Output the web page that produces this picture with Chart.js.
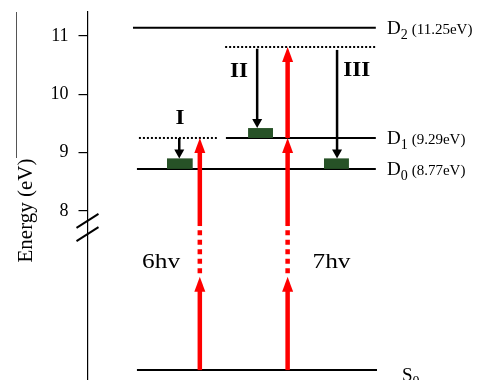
<!DOCTYPE html>
<html>
<head>
<meta charset="utf-8">
<script src="https://cdn.jsdelivr.net/npm/chart.js@4/dist/chart.umd.min.js"></script>
<style>
  html, body { margin: 0; padding: 0; background: #fff; }
</style>
</head>
<body>
<canvas id="chart" width="483" height="380"></canvas>
<script>
/************ DATA ************/
// energy axis ticks (the axis is broken below 8 eV)
const yTicks = [8, 9, 10, 11];

// electronic levels, y = where they sit on the drawn axis
const levelNames = ["D", "D", "D", "S"];
const levelSubs = ["2", "1", "0", "0"];
const levelEnergies = ["(11.25eV)", "(9.29eV)", "(8.77eV)", ""];
const levelY = [11.14, 9.25, 8.72, 5.27];

// virtual (multiphoton) levels, dotted
const virtualY = [9.25, 10.81];

// photon pumping arrows
const photons = ["6hv", "7hv"];
const pumpTargets = [[9.25], [9.25, 10.81]];
const pumpLowTip = 6.87;      // first head, below the gap
const pumpGap = [6.93, 7.74]; // dashed part

// relaxation channels
const channels = ["I", "II", "III"];
const channelFrom = [9.25, 10.78, 10.76];
const channelTo = [8.90, 9.42, 8.90];
const channelBase = [8.72, 9.25, 8.72];

/************ LAYOUT ************/
const SERIF = "'Liberation Serif', 'DejaVu Serif', serif";
const LEVEL_X = [[11.5, 72.9], [35.0, 72.9], [12.5, 72.9], [12.5, 73.2]];
const VIRTUAL_X = [[13.0, 32.7], [34.8, 73.2]];
const PUMP_X = [28.4, 50.6];
const CHANNEL_X = [23.2, 42.9, 63.1];
const BOX_X = [[20.1, 26.6], [40.6, 46.9], [59.8, 66.1]];
const CHANNEL_LABEL = [[23.4, 9.61], [38.3, 10.41], [68.1, 10.43]];
const PHOTON_LABEL = [[18.6, 7.02], [61.7, 7.02]];

const RED = "#ff0000";
const GREEN = "#275227";

/************ DATASETS ************/
const datasets = [];
levelY.forEach((y, i) => {
  datasets.push({
    data: [{ x: LEVEL_X[i][0], y: y }, { x: LEVEL_X[i][1], y: y }],
    showLine: true, borderColor: "#000", borderWidth: 2,
    pointRadius: 0, borderCapStyle: "butt"
  });
});
virtualY.forEach((y, i) => {
  datasets.push({
    data: [{ x: VIRTUAL_X[i][0], y: y }, { x: VIRTUAL_X[i][1], y: y }],
    showLine: true, borderColor: "#000", borderWidth: 2, borderDash: [2, 2],
    pointRadius: 0, borderCapStyle: "butt"
  });
});

/************ HELPERS ************/
function stretchText(ctx, str, x, y, font, align, sx) {
  ctx.save();
  ctx.translate(x, y);
  ctx.scale(sx, 1);
  ctx.font = font;
  ctx.textAlign = align;
  ctx.textBaseline = "alphabetic";
  ctx.fillText(str, 0, 0);
  ctx.restore();
}

function arrow(ctx, x, y0, y1, lw, color, headW, headL) {
  const dir = Math.sign(y1 - y0);
  ctx.strokeStyle = color;
  ctx.lineWidth = lw;
  ctx.lineCap = "butt";
  ctx.setLineDash([]);
  ctx.beginPath();
  ctx.moveTo(x, y0);
  ctx.lineTo(x, y1 - dir * headL * 0.7);
  ctx.stroke();
  ctx.fillStyle = color;
  ctx.beginPath();
  ctx.moveTo(x, y1);
  ctx.lineTo(x - headW / 2, y1 - dir * headL);
  ctx.lineTo(x + headW / 2, y1 - dir * headL);
  ctx.closePath();
  ctx.fill();
}

/************ DIAGRAM PLUGIN ************/
const diagramPlugin = {
  id: "diagram",
  afterDatasetsDraw(chart) {
    const ctx = chart.ctx;
    const xs = chart.scales.x, ys = chart.scales.y;
    const px = v => xs.getPixelForValue(v);
    const py = v => ys.getPixelForValue(v);
    ctx.save();

    // green product boxes
    ctx.fillStyle = GREEN;
    BOX_X.forEach((b, i) => {
      const x0 = px(b[0]), x1 = px(b[1]);
      const top = py(channelTo[i]), bot = py(channelBase[i]);
      ctx.fillRect(x0, top, x1 - x0, bot - top);
    });

    // relaxation arrows (black)
    channels.forEach((c, i) => {
      arrow(ctx, px(CHANNEL_X[i]), py(channelFrom[i]), py(channelTo[i]), 2.5, "#000", 10, 9);
    });

    // photon arrows (red)
    photons.forEach((p, i) => {
      const x = px(PUMP_X[i]);
      arrow(ctx, x, py(levelY[3]), py(pumpLowTip), 4.5, RED, 11, 15);
      ctx.strokeStyle = RED;
      ctx.lineWidth = 4.5;
      ctx.setLineDash([5, 4.5]);
      ctx.beginPath();
      ctx.moveTo(x, py(pumpGap[0]));
      ctx.lineTo(x, py(pumpGap[1]));
      ctx.stroke();
      ctx.setLineDash([]);
      let from = pumpGap[1];
      pumpTargets[i].forEach(t => {
        arrow(ctx, x, py(from), py(t), 4.5, RED, 11, 15);
        from = t;
      });
    });

    ctx.fillStyle = "#000";
    // channel labels
    channels.forEach((c, i) => {
      stretchText(ctx, c, px(CHANNEL_LABEL[i][0]), py(CHANNEL_LABEL[i][1]) + 7, "bold 21px " + SERIF, "center", 1.1);
    });
    // photon labels
    photons.forEach((p, i) => {
      stretchText(ctx, p, px(PHOTON_LABEL[i][0]), py(PHOTON_LABEL[i][1]), "22px " + SERIF, "center", 1.15);
    });

    // level labels
    levelNames.forEach((n, i) => {
      const isGround = levelEnergies[i] === "";
      let x = isGround ? 402 : 387;
      const base = py(levelY[i]) + (isGround ? 10.5 : 6.5);
      ctx.font = "19px " + SERIF;
      ctx.textAlign = "left";
      ctx.textBaseline = "alphabetic";
      ctx.fillText(n, x, base);
      x += ctx.measureText(n).width;
      ctx.font = "14px " + SERIF;
      ctx.fillText(levelSubs[i], x, base + 5);
      x += ctx.measureText(levelSubs[i]).width + 4;
      if (!isGround) {
        ctx.font = "15px " + SERIF;
        ctx.fillText(levelEnergies[i], x, base);
      }
    });

    // axis break marks
    const ax = chart.chartArea.left;
    ctx.strokeStyle = "#000";
    ctx.lineWidth = 2;
    [7.83, 7.60].forEach(v => {
      const y = py(v);
      ctx.beginPath();
      ctx.moveTo(ax - 11, y + 7);
      ctx.lineTo(ax + 11, y - 7);
      ctx.stroke();
    });

    // axis title
    ctx.save();
    ctx.translate(31.5, 210.5);
    ctx.rotate(-Math.PI / 2);
    ctx.font = "21px " + SERIF;
    ctx.textAlign = "center";
    ctx.textBaseline = "alphabetic";
    ctx.fillText("Energy (eV)", 0, 0);
    ctx.restore();

    // thin frame line left over from the original figure
    ctx.strokeStyle = "#555";
    ctx.lineWidth = 1;
    ctx.beginPath();
    ctx.moveTo(16.5, chart.chartArea.top);
    ctx.lineTo(16.5, 158);
    ctx.stroke();

    ctx.restore();
  }
};

/************ CHART ************/
const chart = new Chart(document.getElementById("chart").getContext("2d"), {
  type: "scatter",
  data: { datasets: datasets },
  options: {
    responsive: false,
    animation: false,
    layout: { padding: { top: 12, left: 0, right: 0, bottom: 0 } },
    plugins: { legend: { display: false }, tooltip: { enabled: false } },
    scales: {
      x: { type: "linear", display: false, min: 0, max: 100 },
      y: {
        type: "linear",
        min: 5.10,
        max: 11.41,
        afterBuildTicks: s => { s.ticks = yTicks.map(v => ({ value: v })); },
        afterFit: s => {
          s.width = 87.5;
          s.paddingTop = 0;
          s.paddingBottom = 0;
        },
        border: { display: true, color: "#000", width: 1.2 },
        grid: { drawOnChartArea: false, drawTicks: true, tickLength: 9, color: "#000", lineWidth: 1.2 },
        ticks: { color: "#000", padding: 10, font: { family: SERIF, size: 18 } }
      }
    }
  },
  plugins: [diagramPlugin]
});
</script>
</body>
</html>
